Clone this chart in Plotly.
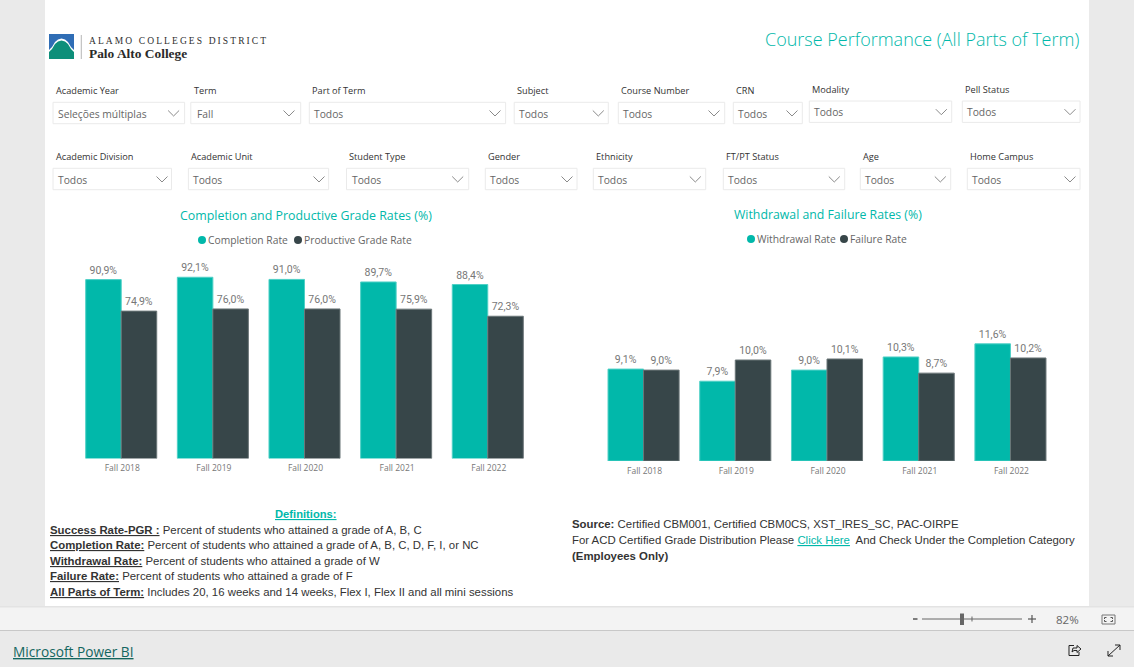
import plotly.graph_objects as go

W, H = 1134, 667

# ---------- data ----------
terms = ["Fall 2018", "Fall 2019", "Fall 2020", "Fall 2021", "Fall 2022"]
completion_rate = [90.9, 92.1, 91.0, 89.7, 88.4]
productive_rate = [74.9, 76.0, 76.0, 75.9, 72.3]
withdrawal_rate = [9.1, 7.9, 9.0, 10.3, 11.6]
failure_rate = [9.0, 10.0, 10.1, 8.7, 10.2]

slicers_row1 = [
    ("Academic Year", "Seleções múltiplas", 53, 184.6, 173.6, 55.8, 58, 0),
    ("Term", "Fall", 190.8, 300.7, 289, 194, 196.7, 0),
    ("Part of Term", "Todos", 309.3, 505.6, 495, 312, 314, 0),
    ("Subject", "Todos", 514.2, 608.3, 598.3, 517, 519.3, 0),
    ("Course Number", "Todos", 618.3, 724.7, 714, 620.7, 623.3, 0),
    ("CRN", "Todos", 733.3, 802.3, 792, 735.7, 738.3, 0),
    ("Modality", "Todos", 809.3, 951.7, 941.3, 812, 814.3, -1.3),
    ("Pell Status", "Todos", 962.3, 1080, 1070, 964.7, 967.3, -1.3),
]
slicers_row2 = [
    ("Academic Division", "Todos", 53, 171.5, 162, 55.8, 58, 0),
    ("Academic Unit", "Todos", 188.4, 328.6, 319, 190.8, 193.2, 0),
    ("Student Type", "Todos", 346.5, 468.7, 457.7, 348.9, 351.6, 0),
    ("Gender", "Todos", 485.3, 577, 567, 487.7, 490.4, 0),
    ("Ethnicity", "Todos", 593.3, 705.7, 695.3, 595.7, 598.3, 0),
    ("FT/PT Status", "Todos", 723.3, 844.7, 834.3, 725.7, 728.3, 0),
    ("Age", "Todos", 860.3, 950.7, 940.3, 863, 865.3, 0),
    ("Home Campus", "Todos", 967.3, 1080, 1070, 970, 972.3, 0),
]

definitions = [
    ("Success Rate-PGR :", " Percent of students who attained a grade of A, B, C", 530),
    ("Completion Rate:", " Percent of students who attained a grade of A, B, C, D, F, I, or NC", 545),
    ("Withdrawal Rate:", " Percent of students who attained a grade of W", 561),
    ("Failure Rate:", " Percent of students who attained a grade of F", 576),
    ("All Parts of Term:", " Includes 20, 16 weeks and 14 weeks, Flex I, Flex II and all mini sessions", 591.5),
]

# ---------- style ----------
TEAL = "#01B8AA"
DARK = "#374649"
SEGOE = "Open Sans"
ARIAL = "Liberation Sans"
LABEL_FONT = "Roboto"


def fx(x):
    return x / W


def fy(y):
    return 1 - y / H


shapes = []
annotations = []


def rect(x0, y0, x1, y1, fill, line=None, width=1):
    shapes.append(dict(type="rect", xref="paper", yref="paper", layer="below",
                       x0=fx(x0), x1=fx(x1), y0=fy(y1), y1=fy(y0), fillcolor=fill,
                       line=dict(color=line or fill, width=width if line else 0)))


def path(points, color=None, width=1, fill=None, close=False):
    d = "M" + " L".join(f"{fx(x):.5f},{fy(y):.5f}" for x, y in points) + (" Z" if close else "")
    shapes.append(dict(type="path", xref="paper", yref="paper", layer="below", path=d,
                       fillcolor=fill or "rgba(0,0,0,0)",
                       line=dict(color=color or "rgba(0,0,0,0)", width=width if color else 0)))


def text(x, y, s, size, color, family=SEGOE, anchor="left", weight=None):
    font = dict(size=size, color=color, family=family)
    if weight:
        font["weight"] = weight
    annotations.append(dict(x=fx(x), y=fy(y), xref="paper", yref="paper", text=s, showarrow=False,
                            xanchor=anchor, yanchor="middle", font=font, align=anchor,
                            borderpad=0, borderwidth=0))


def dot(x, y, r, color):
    shapes.append(dict(type="circle", xref="paper", yref="paper", layer="below",
                       x0=fx(x - r), x1=fx(x + r), y0=fy(y + r), y1=fy(y - r),
                       fillcolor=color, line=dict(width=0)))


# ---------- page chrome ----------
rect(45, 0, 1089, 606, "#FFFFFF")
rect(0, 607, W, 630, "#F3F3F3")
rect(0, 606, W, 607.5, "#E3E3E3")
rect(0, 630, W, 631, "#C8C8C8")

# ---------- logo ----------
rect(49, 34, 74, 59, "#2F6DB5")
path([(49, 59), (49, 50), (52, 47), (55, 42), (58, 39.5), (61.5, 38.5), (65, 39.5), (68, 42),
      (71, 47), (74, 50), (74, 59)], fill="#FFFFFF", close=True)
path([(49, 59), (49, 52), (52, 49), (55, 44), (58, 41.5), (61.5, 40.5), (65, 41.5), (68, 44),
      (71, 49), (74, 52), (74, 59)], fill="#0E8F7A", close=True)
path([(81.3, 35), (81.3, 59)], color="#B5B5B5", width=1)
text(89, 41, '<span style="letter-spacing:2.1px">ALAMO COLLEGES DISTRICT</span>', 9.5, "#2E2E2E", "Liberation Serif")
text(89, 53.5, "<b>Palo Alto College</b>", 13.4, "#2A2A2A", "Liberation Serif")

# ---------- page title ----------
text(1079, 39, "Course Performance (All Parts of Term)", 18, TEAL, SEGOE, anchor="right", weight=300)


# ---------- slicers ----------
def slicer(item, label_y, box_y0, box_y1):
    label, value, x0, x1, chev, lx, tx, dy = item
    rect(x0, box_y0 + dy, x1, box_y1 + dy, "#FFFFFF", "#EAEAEA", 1)
    text(lx, label_y + dy, label, 9.2, "#333333")
    text(tx, (box_y0 + box_y1) / 2 + dy + 0.5, value, 10.3, "#666666")
    cy = (box_y0 + box_y1) / 2 + dy
    path([(chev - 5.5, cy - 2.5), (chev, cy + 3), (chev + 5.5, cy - 2.5)], color="#8A8A8A", width=1)


for it in slicers_row1:
    slicer(it, 90.7, 102.3, 123.7)
for it in slicers_row2:
    slicer(it, 156.7, 168.3, 189.7)

# ---------- chart titles and legends ----------
text(306, 215.5, "Completion and Productive Grade Rates (%)", 12.4, TEAL, anchor="center")
text(828, 214.5, "Withdrawal and Failure Rates (%)", 12.3, TEAL, anchor="center")

dot(202, 240, 4, TEAL)
text(208, 240, "Completion Rate", 10.3, "#666666")
dot(298, 240, 4, DARK)
text(304, 240, "Productive Grade Rate", 10.3, "#666666")
dot(751, 239, 4, TEAL)
text(757, 239, "Withdrawal Rate", 10.3, "#666666")
dot(844, 239, 4, DARK)
text(850, 239, "Failure Rate", 10.3, "#666666")

# ---------- definitions ----------
text(306, 514, '<b><u>Definitions:</u></b>', 11.2, TEAL, ARIAL, anchor="center")
for head, body, y in definitions:
    text(49.5, y, f"<b><u>{head}</u></b>{body}", 11.4, "#333333", ARIAL)

# ---------- source ----------
text(572, 524, "<b>Source:</b> Certified CBM001, Certified CBM0CS, XST_IRES_SC, PAC-OIRPE", 11.4, "#333333", ARIAL)
text(572, 540, 'For ACD Certified Grade Distribution Please <a href="#" style="color:#01B8AA"><u>Click Here</u></a>  And Check Under the Completion Category',
     11.4, "#333333", ARIAL)
text(572, 555.5, "<b>(Employees Only)</b>", 11.4, "#333333", ARIAL)

# ---------- footer ----------
path([(913, 619), (917.5, 619)], color="#555555", width=1.5)
path([(922, 619), (1022, 619)], color="#666666", width=1)
path([(972, 616.5), (972, 621.5)], color="#666666", width=1)
rect(960, 613.5, 964, 625, "#666666")
path([(1028, 619), (1036, 619)], color="#555555", width=1.2)
path([(1032, 615), (1032, 623)], color="#555555", width=1.2)
text(1067, 619, "82%", 11.5, "#666666", anchor="center")
rect(1102, 615, 1115, 624, "#F3F3F3", "#777777", 1)
path([(1104.5, 619), (1104.5, 617.5), (1106.5, 617.5)], color="#555555", width=1)
path([(1110.5, 617.5), (1112.5, 617.5), (1112.5, 619)], color="#555555", width=1)
path([(1104.5, 620), (1104.5, 621.5), (1106.5, 621.5)], color="#555555", width=1)
path([(1110.5, 621.5), (1112.5, 621.5), (1112.5, 620)], color="#555555", width=1)
text(13, 651, '<a href="#" style="color:#13665F"><u>Microsoft Power BI</u></a>', 13.7, "#13665F")
path([(1074, 645.5), (1069, 645.5), (1069, 655.5), (1079, 655.5), (1079, 652)], color="#222222", width=1)
path([(1072, 652), (1073, 648), (1077, 648), (1077, 645.5), (1081, 649), (1077, 652.5), (1077, 650.5), (1074, 650.5), (1072, 652)],
     color="#222222", width=1)
path([(1108, 656), (1120, 645)], color="#222222", width=1)
path([(1115, 645), (1120, 645), (1120, 650)], color="#222222", width=1)
path([(1108, 651), (1108, 656), (1113, 656)], color="#222222", width=1)

# ---------- charts ----------
fig = go.Figure()


def bars(xa, ya, values, name, color, edge):
    fig.add_trace(go.Bar(
        x=terms, y=values, name=name, xaxis=xa, yaxis=ya, showlegend=False,
        marker=dict(color=color, line=dict(color=edge, width=1)),
        texttemplate="%{y:.1f}%", textposition="outside", cliponaxis=False,
        textfont=dict(family=LABEL_FONT, size=10.5, color="#777777"),
        hovertemplate=name + " %{x}: %{y:.1f}%<extra></extra>",
    ))


bars("x", "y", completion_rate, "Completion Rate", TEAL, "#4FD0C6")
bars("x", "y", productive_rate, "Productive Grade Rate", DARK, "#6B7678")
bars("x2", "y2", withdrawal_rate, "Withdrawal Rate", TEAL, "#4FD0C6")
bars("x2", "y2", failure_rate, "Failure Rate", DARK, "#6B7678")


def xaxis(x0, x1):
    return dict(domain=[fx(x0), fx(x1)], type="category", showgrid=False, zeroline=False, showline=False,
                ticks="", tickfont=dict(family=SEGOE, size=8.5, color="#777777"), fixedrange=True,
                ticklabelstandoff=3, ticklabelshift=1)


def yaxis(base, top, px_per_unit, anchor):
    return dict(domain=[fy(base), fy(top)], range=[0, (base - top) / px_per_unit], visible=False,
                showgrid=False, zeroline=False, fixedrange=True, anchor=anchor)


fig.update_layout(
    width=W, height=H, autosize=False,
    margin=dict(l=0, r=0, t=0, b=0),
    paper_bgcolor="#EAEAEA", plot_bgcolor="rgba(0,0,0,0)",
    barmode="group", bargap=0.225, bargroupgap=0,
    separators=",.",
    showlegend=False,
    xaxis=dict(**xaxis(75.4, 533.6), anchor="y"),
    yaxis=yaxis(458.6, 255, 1.969, "x"),
    xaxis2=dict(**xaxis(597.7, 1056.3), anchor="y2"),
    yaxis2=yaxis(461, 255, 10.1, "x2"),
    shapes=shapes,
    annotations=annotations,
)

fig.write_html("out.html", config=dict(displayModeBar=False),
               post_script="document.body.style.margin='0';document.body.style.overflow='hidden';")
